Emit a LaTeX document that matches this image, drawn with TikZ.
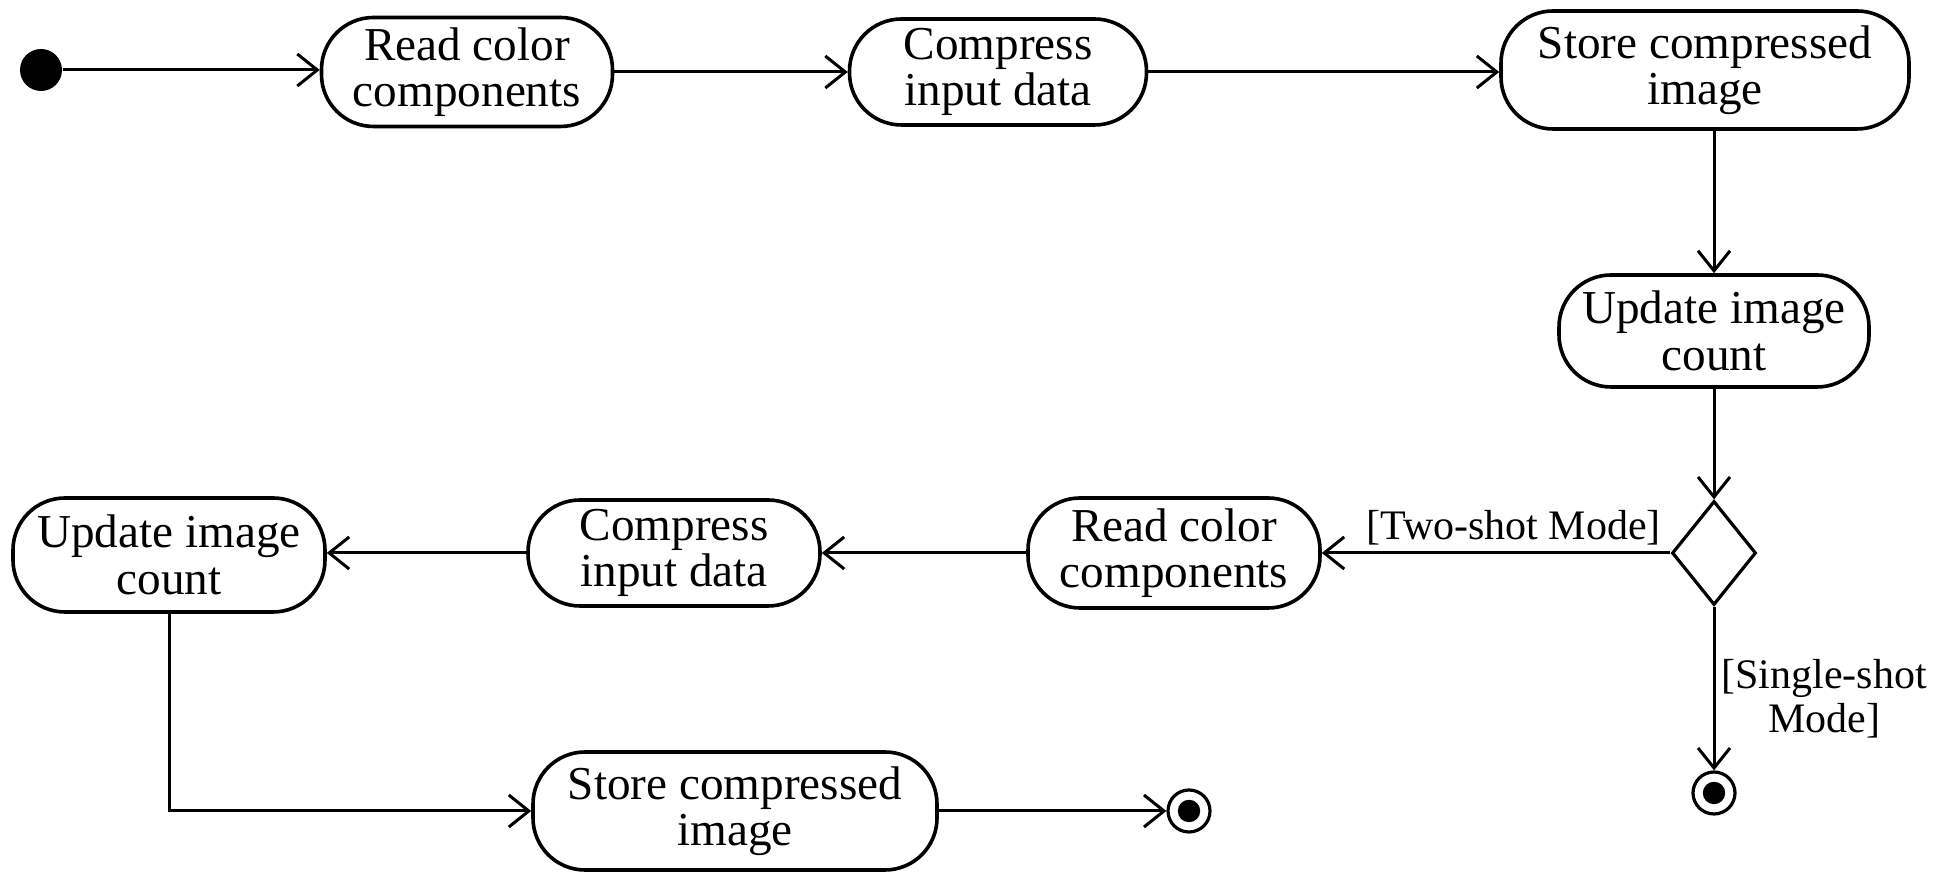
\documentclass[tikz,border=0pt]{standalone}
\usepackage{fontspec}
\setmainfont{Liberation Serif}
\usetikzlibrary{arrows.meta}
\usetikzlibrary{shapes.geometric}

\tikzset{
    activity/.style={draw, line width=0.9pt, rectangle, rounded corners=13pt,
        align=center, inner sep=0pt, font=\fontsize{11.8}{11.6}\selectfont},
    flow/.style={line width=0.75pt, -{Straight Barb[length=5pt,width=8pt,line width=0.75pt]}},
    decision/.style={draw, line width=0.8pt, diamond, inner sep=0pt, minimum width=21pt, minimum height=26pt},
    guard/.style={font=\fontsize{10.5}{11}\selectfont, align=center, inner sep=1.5pt},
    initial/.style={circle, fill=black, inner sep=0pt, minimum size=10.5pt},
    final/.style={circle, draw, line width=0.8pt, inner sep=0pt, minimum size=10.5pt}
}

\begin{document}
\begin{tikzpicture}[x=0.25pt,y=-0.25pt]
        \useasboundingbox (0,0) rectangle (1959,873);
        \node[initial] (start) at (41,70) {};
        \node[activity, minimum width=72.75pt, minimum height=27.25pt] (read1) at (467,72) {Read color\\components};
        \node[activity, minimum width=74.25pt, minimum height=26.5pt] (comp1) at (998,72) {Compress\\input data};
        \node[activity, minimum width=102pt, minimum height=29.5pt] (store1) at (1705,70) {Store compressed\\image};
        \node[activity, minimum width=77.5pt, minimum height=28pt] (upd1) at (1714,331) {Update image\\count};
        \node[decision] (dec) at (1714,553) {};
        \node[activity, minimum width=73pt, minimum height=27.5pt] (read2) at (1174,553) {Read color\\components};
        \node[activity, minimum width=73pt, minimum height=26.5pt] (comp2) at (674,553) {Compress\\input data};
        \node[activity, minimum width=78pt, minimum height=28.5pt] (upd2) at (169,555) {Update image\\count};
        \node[activity, minimum width=101pt, minimum height=29.5pt] (store2) at (735,811) {Store compressed\\image};
        \node[final] (end1) at (1714,793) {};
        \node[final] (end2) at (1189,811) {};
        \filldraw[black] (end1) circle (2.6pt);
        \filldraw[black] (end2) circle (2.6pt);
        \draw[flow] (start) -- (read1.west |- start);
        \draw[flow] (read1.east |- comp1) -- (comp1);
        \draw[flow] (comp1) -- (store1.west |- comp1);
        \draw[flow] (store1.south -| upd1) -- (upd1);
        \draw[flow] (upd1) -- (dec);
        \draw[flow] (dec) -- node[guard, above, pos=0.45] {[Two-shot Mode]} (read2);
        \draw[flow] (read2) -- (comp2);
        \draw[flow] (comp2) -- (upd2.east |- comp2);
        \draw[flow] (dec) -- node[guard, right, pos=0.56] {[Single-shot\\Mode]} (end1);
        \draw[flow] (upd2.south) |- (store2.west);
        \draw[flow] (store2) -- (end2);
    \end{tikzpicture}
\end{document}
